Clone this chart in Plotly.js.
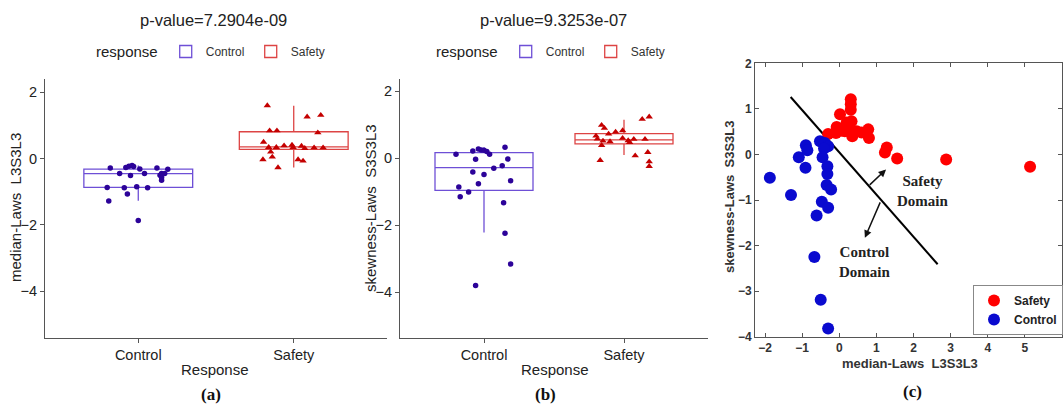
<!DOCTYPE html>
<html><head><meta charset="utf-8">
<script src="https://cdn.plot.ly/plotly-3.0.1.min.js"></script>
<style>html,body{margin:0;padding:0;background:#fff}#chart{width:1063px;height:405px}</style>
</head><body><div id="chart"></div>
<script>
// ---------- data ----------
const categories = ['Control', 'Safety'];
const categoryPos = [0, 1];

// Panel (a): median-Laws L3S3L3
const aControlX = [-0.18,-0.08,-0.06,-0.04,-0.03,0.01,0.12,0.19,-0.12,-0.05,0.04,0.14,0.15,0.17,0.15,0.15,-0.20,-0.09,-0.01,0.06,-0.07,-0.19,0.00];
const aControlY = [-0.28,-0.27,-0.23,-0.21,-0.24,-0.31,-0.28,-0.32,-0.45,-0.51,-0.45,-0.50,-0.45,-0.45,-0.57,-0.65,-0.87,-0.88,-0.85,-0.88,-1.07,-1.28,-1.87];
const aSafetyX = [0.830,1.086,1.174,0.845,0.892,1.155,0.806,0.839,0.888,0.938,0.989,0.996,1.050,1.071,1.131,1.189,0.852,0.862,0.802,1.028,1.060,0.899];
const aSafetyY = [1.60,1.26,1.31,0.84,0.84,0.78,0.50,0.34,0.34,0.39,0.41,0.34,0.38,0.31,0.33,0.33,0.20,0.05,-0.03,-0.03,-0.07,-0.27];
const aBoxLow = [-1.27, -0.27];
const aBoxQ1 = [-0.87, 0.28];
const aBoxMedian = [-0.45, 0.355];
const aBoxQ3 = [-0.32, 0.81];
const aBoxHigh = [-0.21, 1.59];

// Panel (b): skewness-Laws S3S3L3
const bControlX = [-0.04,-0.02,0.00,-0.08,0.02,0.15,-0.20,0.04,-0.06,0.17,0.07,0.13,-0.08,0.00,0.19,-0.04,-0.18,-0.11,-0.17,0.14,0.15,0.19,-0.06];
const bControlY = [0.28,0.25,0.24,0.22,0.20,0.33,0.12,0.12,-0.03,-0.02,-0.30,-0.22,-0.41,-0.48,-0.67,-0.76,-0.86,-1.01,-1.15,-1.33,-2.24,-3.16,-3.80];
const bSafetyX = [1.13,1.18,0.84,0.86,0.94,0.99,0.89,0.80,0.81,0.99,0.85,0.90,1.03,1.07,1.04,1.15,0.84,1.08,1.17,0.83,1.18,1.18];
const bSafetyY = [1.17,1.24,0.99,0.90,0.79,0.83,0.73,0.67,0.58,0.60,0.52,0.50,0.53,0.57,0.48,0.57,0.39,0.08,0.18,-0.06,-0.10,-0.24];
const bBoxLow = [-2.22, 0.10];
const bBoxQ1 = [-0.96, 0.43];
const bBoxMedian = [-0.28, 0.55];
const bBoxQ3 = [0.17, 0.74];
const bBoxHigh = [0.33, 1.15];

// Panel (c): scatter median vs skewness
const cSafetyX = [-0.30,-0.07,-0.09,0.02,0.15,0.31,0.31,0.31,0.33,0.31,0.35,0.47,0.78,0.80,1.28,1.23,1.56,2.88,5.14,0.20,0.60,0.05];
const cSafetyY = [0.45,0.60,0.47,0.88,0.51,1.21,1.10,0.98,0.73,0.51,0.40,0.51,0.55,0.36,0.15,0.04,-0.09,-0.11,-0.27,0.70,0.48,0.52];
const cControlX = [-1.87,-1.30,-1.09,-0.90,-0.86,-0.91,-0.52,-0.39,-0.30,-0.41,-0.45,-0.32,-0.32,-0.34,-0.22,-0.47,-0.30,-0.61,-0.67,-0.50,-0.30];
const cControlY = [-0.51,-0.89,-0.06,0.20,0.09,-0.29,0.29,0.25,0.18,0.13,-0.06,-0.26,-0.43,-0.67,-0.77,-1.04,-1.17,-1.34,-2.25,-3.19,-3.82];
const boundaryX = [-1.31, 2.65];
const boundaryY = [1.26, -2.41];

const titles = ['p-value=7.2904e-09', 'p-value=9.3253e-07'];

// ---------- styling ----------
const W = 1063, H = 405;
const px = v => v / W, py = v => 1 - v / H;
const SANS = 'Arial, "Liberation Sans", sans-serif';
const SERIF = '"Times New Roman", "Liberation Serif", serif';
const ctrlBox = '#6E4FD6', ctrlPt = '#2C0399';
const safeBox = '#DD4444', safePt = '#C40000';

function boxTrace(name, i, low, q1, med, q3, high, color, xa, ya, lg) {
  return {type: 'box', name: name, x: [categoryPos[i]], lowerfence: [low[i]], q1: [q1[i]],
    median: [med[i]], q3: [q3[i]], upperfence: [high[i]], width: 0.7, whiskerwidth: 0,
    boxpoints: false, line: {color: color, width: 1.3}, fillcolor: 'rgba(255,255,255,0)',
    xaxis: xa, yaxis: ya, legend: lg, hoverinfo: 'skip'};
}
function pts(x, y, sym, color, size, xa, ya) {
  return {type: 'scatter', mode: 'markers', x: x, y: y, xaxis: xa, yaxis: ya, showlegend: false,
    marker: {symbol: sym, color: color, size: size}, hoverinfo: 'skip'};
}

const traces = [
  boxTrace('Control', 0, aBoxLow, aBoxQ1, aBoxMedian, aBoxQ3, aBoxHigh, ctrlBox, 'x', 'y', 'legend'),
  boxTrace('Safety', 1, aBoxLow, aBoxQ1, aBoxMedian, aBoxQ3, aBoxHigh, safeBox, 'x', 'y', 'legend'),
  pts(aControlX, aControlY, 'circle', ctrlPt, 5.5, 'x', 'y'),
  pts(aSafetyX, aSafetyY, 'triangle-up', safePt, 6.5, 'x', 'y'),
  boxTrace('Control', 0, bBoxLow, bBoxQ1, bBoxMedian, bBoxQ3, bBoxHigh, ctrlBox, 'x2', 'y2', 'legend2'),
  boxTrace('Safety', 1, bBoxLow, bBoxQ1, bBoxMedian, bBoxQ3, bBoxHigh, safeBox, 'x2', 'y2', 'legend2'),
  pts(bControlX, bControlY, 'circle', ctrlPt, 5.5, 'x2', 'y2'),
  pts(bSafetyX, bSafetyY, 'triangle-up', safePt, 6.5, 'x2', 'y2'),
  {type: 'scatter', mode: 'lines', x: boundaryX, y: boundaryY, xaxis: 'x3', yaxis: 'y3', showlegend: false,
    line: {color: '#000', width: 2}, hoverinfo: 'skip'},
  {type: 'scatter', mode: 'markers', name: 'Safety', x: cSafetyX, y: cSafetyY, xaxis: 'x3', yaxis: 'y3',
    legend: 'legend3', marker: {color: '#FF0000', size: 12}, hoverinfo: 'skip'},
  {type: 'scatter', mode: 'markers', name: 'Control', x: cControlX, y: cControlY, xaxis: 'x3', yaxis: 'y3',
    legend: 'legend3', marker: {color: '#0A0ACF', size: 12}, hoverinfo: 'skip'}
];

const ggAxis = {showline: true, linecolor: '#555', linewidth: 1, ticks: 'outside', ticklen: 4,
  tickcolor: '#555', showgrid: false, zeroline: false, fixedrange: true,
  tickfont: {family: SANS, size: 14.5, color: '#222'}};
const mAxis = {showline: true, linecolor: '#555', linewidth: 1, mirror: 'ticks', ticks: 'inside', ticklen: 4,
  tickcolor: '#555', showgrid: false, zeroline: false, fixedrange: true, dtick: 1,
  tickfont: {family: SANS, size: 12, color: '#333', weight: 'bold'}};

const ggLegend = (cx) => ({orientation: 'h', x: px(cx), xanchor: 'center', y: py(52), yanchor: 'middle',
  title: {text: 'response', side: 'left', font: {family: SANS, size: 15, color: '#222'}},
  font: {family: SANS, size: 12, color: '#333'}, bgcolor: 'rgba(0,0,0,0)', itemwidth: 30,
  entrywidth: 40});

function txt(x, y, text, opts) {
  return Object.assign({xref: 'paper', yref: 'paper', x: px(x), y: py(y), text: text, showarrow: false,
    xanchor: 'center', yanchor: 'middle', font: {family: SANS, size: 15, color: '#222'}}, opts || {});
}

const annotations = [
  txt(213, 20, titles[0], {font: {family: SANS, size: 16.5, color: '#222'}}),
  txt(553, 20, titles[1], {font: {family: SANS, size: 16.5, color: '#222'}}),
  txt(215, 369, 'Response'),
  txt(555, 369, 'Response'),
  txt(15, 208, 'median-Laws\u00a0\u00a0L3S3L3', {textangle: -90}),
  txt(370, 208, 'skewness-Laws\u00a0\u00a0S3S3L3', {textangle: -90}),
  txt(910, 363, 'median-Laws\u00a0\u00a0L3S3L3', {font: {family: SANS, size: 13, color: '#333', weight: 'bold'}}),
  txt(729, 197, 'skewness-Laws\u00a0\u00a0S3S3L3', {textangle: -90, font: {family: SANS, size: 13, color: '#333', weight: 'bold'}}),
  txt(211, 394, '(a)', {font: {family: SERIF, size: 17, color: '#111', weight: 'bold'}}),
  txt(545, 394, '(b)', {font: {family: SERIF, size: 17, color: '#111', weight: 'bold'}}),
  txt(912, 391, '(c)', {font: {family: SERIF, size: 17, color: '#111', weight: 'bold'}}),
  {xref: 'x3', yref: 'y3', x: 2.25, y: -0.80, text: 'Safety<br>Domain', showarrow: false,
    font: {family: SERIF, size: 15, color: '#222', weight: 'bold'}},
  {xref: 'x3', yref: 'y3', x: 0.68, y: -2.36, text: 'Control<br>Domain', showarrow: false,
    font: {family: SERIF, size: 15, color: '#222', weight: 'bold'}},
  {xref: 'x3', yref: 'y3', axref: 'x3', ayref: 'y3', x: 1.26, y: -0.33, ax: 0.78, ay: -0.70, text: '',
    showarrow: true, arrowhead: 2, arrowsize: 1, arrowwidth: 1.5, arrowcolor: '#111'},
  {xref: 'x3', yref: 'y3', axref: 'x3', ayref: 'y3', x: 0.69, y: -1.83, ax: 1.12, ay: -1.02, text: '',
    showarrow: true, arrowhead: 2, arrowsize: 1, arrowwidth: 1.5, arrowcolor: '#111'}
];

const layout = {
  width: W, height: H, margin: {l: 0, r: 0, t: 0, b: 0}, paper_bgcolor: '#fff', plot_bgcolor: 'rgba(0,0,0,0)',
  boxmode: 'overlay', font: {family: SANS}, showlegend: true,
  xaxis: Object.assign({}, ggAxis, {domain: [px(45), px(387)], range: [-0.6, 1.6], tickvals: categoryPos, ticktext: categories, anchor: 'y'}),
  yaxis: Object.assign({}, ggAxis, {domain: [py(337.7), py(79)], range: [-5.4, 2.4], tickvals: [-4, -2, 0, 2], anchor: 'x'}),
  xaxis2: Object.assign({}, ggAxis, {domain: [px(400), px(708)], range: [-0.6, 1.6], tickvals: categoryPos, ticktext: categories, anchor: 'y2'}),
  yaxis2: Object.assign({}, ggAxis, {domain: [py(337.7), py(79)], range: [-5.36, 2.37], tickvals: [-4, -2, 0, 2], anchor: 'x2'}),
  xaxis3: Object.assign({}, mAxis, {domain: [px(755), px(1062)], range: [-2.27, 6], tick0: -2, anchor: 'y3'}),
  yaxis3: Object.assign({}, mAxis, {domain: [py(336.7), py(63.3)], range: [-4, 2], tick0: -4, anchor: 'x3'}),
  legend: ggLegend(215),
  legend2: ggLegend(555),
  legend3: {x: px(973), y: py(285), xanchor: 'left', yanchor: 'top', orientation: 'v', bgcolor: '#fff',
    bordercolor: '#888', borderwidth: 1, font: {family: SANS, size: 12, color: '#222', weight: 'bold'}, itemwidth: 30},
  annotations: annotations
};

Plotly.newPlot('chart', traces, layout, {staticPlot: true, displayModeBar: false});
</script></body></html>
